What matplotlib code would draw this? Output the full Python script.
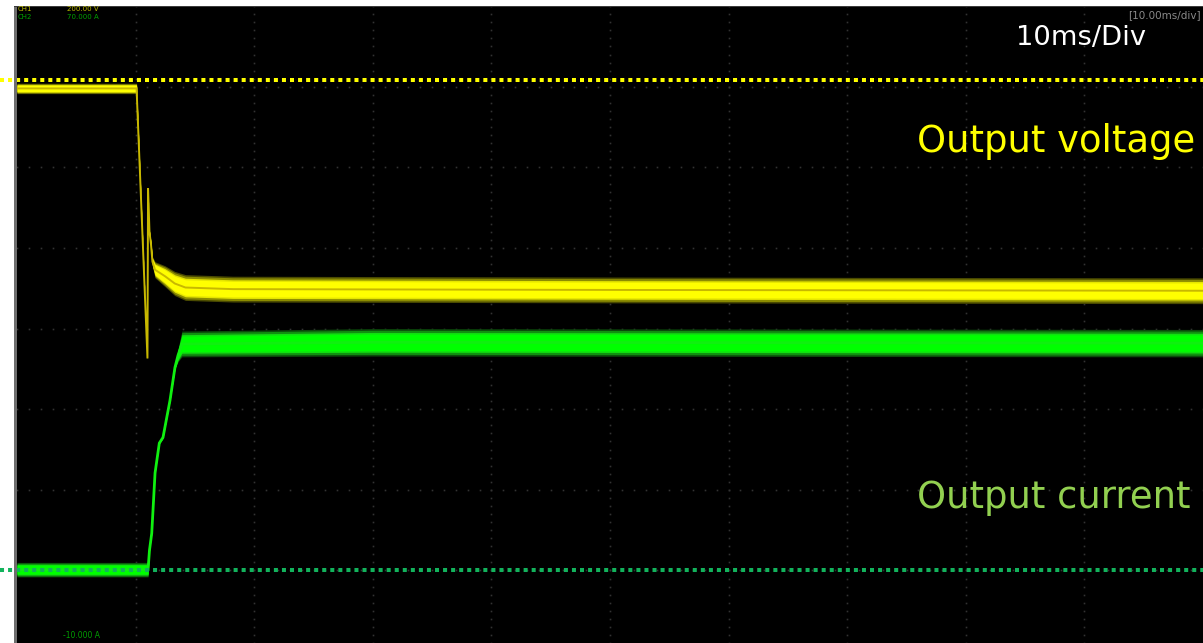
import matplotlib
matplotlib.use("Agg")
import matplotlib.pyplot as plt
import numpy as np
from matplotlib.patches import Rectangle

# ---------------- data (time in ms, level in screen divisions) ----------------
v_time = [0.0, 10.08, 11.0, 11.05, 11.17, 11.3, 11.42, 11.64, 12.48, 13.3, 14.2, 18.2, 50.0, 100.0]
v_level = [2.98, 2.98, -0.37, 1.74, 1.20, 1.04, 0.83, 0.73, 0.65, 0.56, 0.51, 0.49, 0.48, 0.47]
v_noise = [0.065, 0.065, 0.01, 0.01, 0.02, 0.04, 0.06, 0.10, 0.13, 0.15, 0.16, 0.16, 0.16, 0.16]

i_time = [0.0, 11.05, 11.17, 11.36, 11.64, 12.0, 12.31, 12.9, 13.32, 13.58, 13.9, 30.0, 100.0]
i_level = [-2.99, -2.99, -2.75, -2.54, -1.79, -1.42, -1.35, -0.89, -0.48, -0.33, -0.19, -0.17, -0.18]
i_noise = [0.09, 0.09, 0.01, 0.01, 0.01, 0.01, 0.01, 0.01, 0.02, 0.08, 0.16, 0.17, 0.17]

v_ref_level = 3.09
i_ref_level = -2.99

time_div_ms = 10
n_xdiv = 10
ydiv_lines = [-3, -2, -1, 0, 1, 2, 3]

ch1_label = ["CH1", "200.00 V"]
ch2_label = ["CH2", "70.000 A"]
timebase_label = "[10.00ms/div]"
scale_label = "10ms/Div"
bottom_label = "-10.000 A"
v_name = "Output voltage"
i_name = "Output current"

# ---------------- figure ----------------
W, H = 1203, 643
fig = plt.figure(figsize=(W / 100, H / 100), dpi=100, facecolor="white")
ax_left, ax_top = 17, 7
ax = fig.add_axes([ax_left / W, 0, (W - ax_left) / W, (H - ax_top) / H])
ax.set_facecolor("black")
ax.set_xlim(0, n_xdiv * time_div_ms)
ax.set_ylim(-3.90, 3.99)
for s in ax.spines.values():
    s.set_visible(False)
ax.set_xticks([])
ax.set_yticks([])

# left grey bar & top line
fig.patches.append(Rectangle((14 / W, 0), 3 / W, (H - 6) / H, transform=fig.transFigure,
                             facecolor="#6e6e6e", edgecolor="none", zorder=0))
fig.patches.append(Rectangle((14 / W, (H - 7) / H), (W - 14) / W, 1.2 / H, transform=fig.transFigure,
                             facecolor="#3c3c3c", edgecolor="none", zorder=0))

# grid dots
grid_c = "#333333"
xs_minor = np.arange(0, n_xdiv * time_div_ms + 0.01, time_div_ms / 10)
for yl in ydiv_lines:
    ax.plot(xs_minor, np.full_like(xs_minor, yl), ls="none", marker="s", ms=1.2,
            mec="none", mfc=grid_c, zorder=1)
ys_minor = np.arange(-4.0, 4.01, 0.1)
for k in range(1, n_xdiv):
    xv = k * time_div_ms
    ax.plot(np.full_like(ys_minor, xv), ys_minor, ls="none", marker="s", ms=1.2,
            mec="none", mfc=grid_c, zorder=1)

# traces
t_fine = np.linspace(0, 100, 20001)
def band(times, levels, noise, layers, color_line, lw_line):
    c = np.interp(t_fine, times, levels)
    n = np.interp(t_fine, times, noise)
    for z, (frac, col) in enumerate(layers):
        ax.fill_between(t_fine, c - frac * n, c + frac * n, color=col, lw=0, zorder=3 + z)
    ax.plot(times, levels, color=color_line, lw=lw_line, zorder=8, solid_joinstyle="miter")

band(v_time, v_level, v_noise,
     [(1.0, "#4a4a00"), (0.88, "#8c8c00"), (0.72, "#e6e600"), (0.6, "#ffff00")],
     "#c8b800", 1.4)
band(i_time, i_level, i_noise,
     [(1.0, "#0a4a0a"), (0.88, "#109010"), (0.72, "#10e010"), (0.6, "#00ff00")],
     "#10f010", 2.0)

# reference dotted lines (extend into left margin)
x0 = -ax_left / ((W - ax_left) / 100)
ax.plot([x0, 100], [v_ref_level, v_ref_level], color="#ffff00", lw=2.9,
        ls=(0, (1, 1)), clip_on=False, zorder=9, dash_capstyle="butt")
ax.plot([x0, 100], [i_ref_level, i_ref_level], color="#12b35c", lw=2.9,
        ls=(0, (1, 1)), clip_on=False, zorder=9, dash_capstyle="butt")

# texts
def ftext(x, y, s, **kw):
    fig.text(x / W, 1 - y / H, s, **kw)

ftext(18, 9, ch1_label[0], color="#b8b800", fontsize=5, va="center", ha="left")
ftext(67, 9, ch1_label[1], color="#b8b800", fontsize=5, va="center", ha="left")
ftext(18, 17, ch2_label[0], color="#00a000", fontsize=5, va="center", ha="left")
ftext(67, 17, ch2_label[1], color="#00a000", fontsize=5, va="center", ha="left")
ftext(1201, 15, timebase_label, color="#8a8a8a", fontsize=7.5, va="center", ha="right")
ftext(1016, 38, scale_label, color="white", fontsize=19.7, va="center", ha="left")
ftext(63, 636, bottom_label, color="#00a000", fontsize=5.5, va="center", ha="left")
ftext(917, 142, v_name, color="#ffff00", fontsize=26.6, va="center", ha="left")
ftext(917, 497, i_name, color="#92d050", fontsize=26.6, va="center", ha="left")

fig.savefig("out.png", dpi=100, facecolor="white")
